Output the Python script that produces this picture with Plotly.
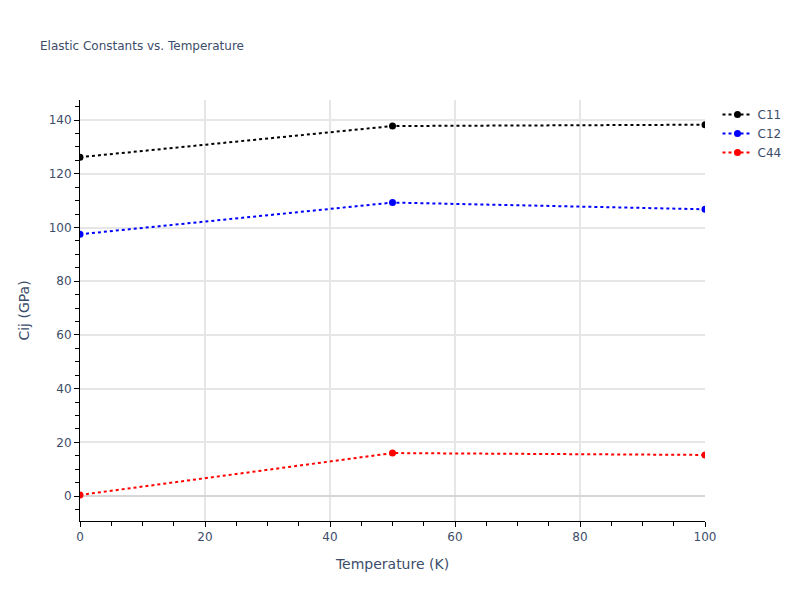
import plotly.graph_objects as go

temperature = [0, 50, 100]
c11 = [126.2, 137.8, 138.3]
c12 = [97.5, 109.3, 106.8]
c44 = [0.4, 16.0, 15.3]

series = [("C11", c11, "black"), ("C12", c12, "blue"), ("C44", c44, "red")]

fig = go.Figure()
for name, vals, col in series:
    fig.add_trace(go.Scatter(x=temperature, y=vals, name=name, mode="lines+markers",
                             line=dict(color=col, dash="dot", width=2),
                             marker=dict(color=col, size=7)))

minor = dict(ticks="outside", ticklen=4, tickcolor="black", dtick=5, showgrid=False)
axis_common = dict(showline=True, linecolor="black", linewidth=1, ticks="outside",
                   tickcolor="black", ticklen=5, gridcolor="#e6e6e6", gridwidth=1.5,
                   showgrid=True, minor=minor)

fig.update_layout(
    template="plotly_white",
    width=800, height=600,
    font=dict(family="Verdana, DejaVu Sans, sans-serif", color="#3c4d6b"),
    title=dict(text="Elastic Constants vs. Temperature", font=dict(size=12), x=0.05, y=0.93),
    margin=dict(l=80, r=95, t=100, b=79),
    xaxis=dict(title="Temperature (K)", range=[0, 100], dtick=20, zeroline=False, **axis_common),
    yaxis=dict(title="Cij (GPa)", range=[-9.3, 147.5], dtick=20, zeroline=True,
               zerolinecolor="#d6d6d6", zerolinewidth=2, **axis_common),
    legend=dict(x=1.02, y=1.0),
)

fig.write_html("out.html", config={"displayModeBar": False},
               post_script="document.body.style.margin='0';")
